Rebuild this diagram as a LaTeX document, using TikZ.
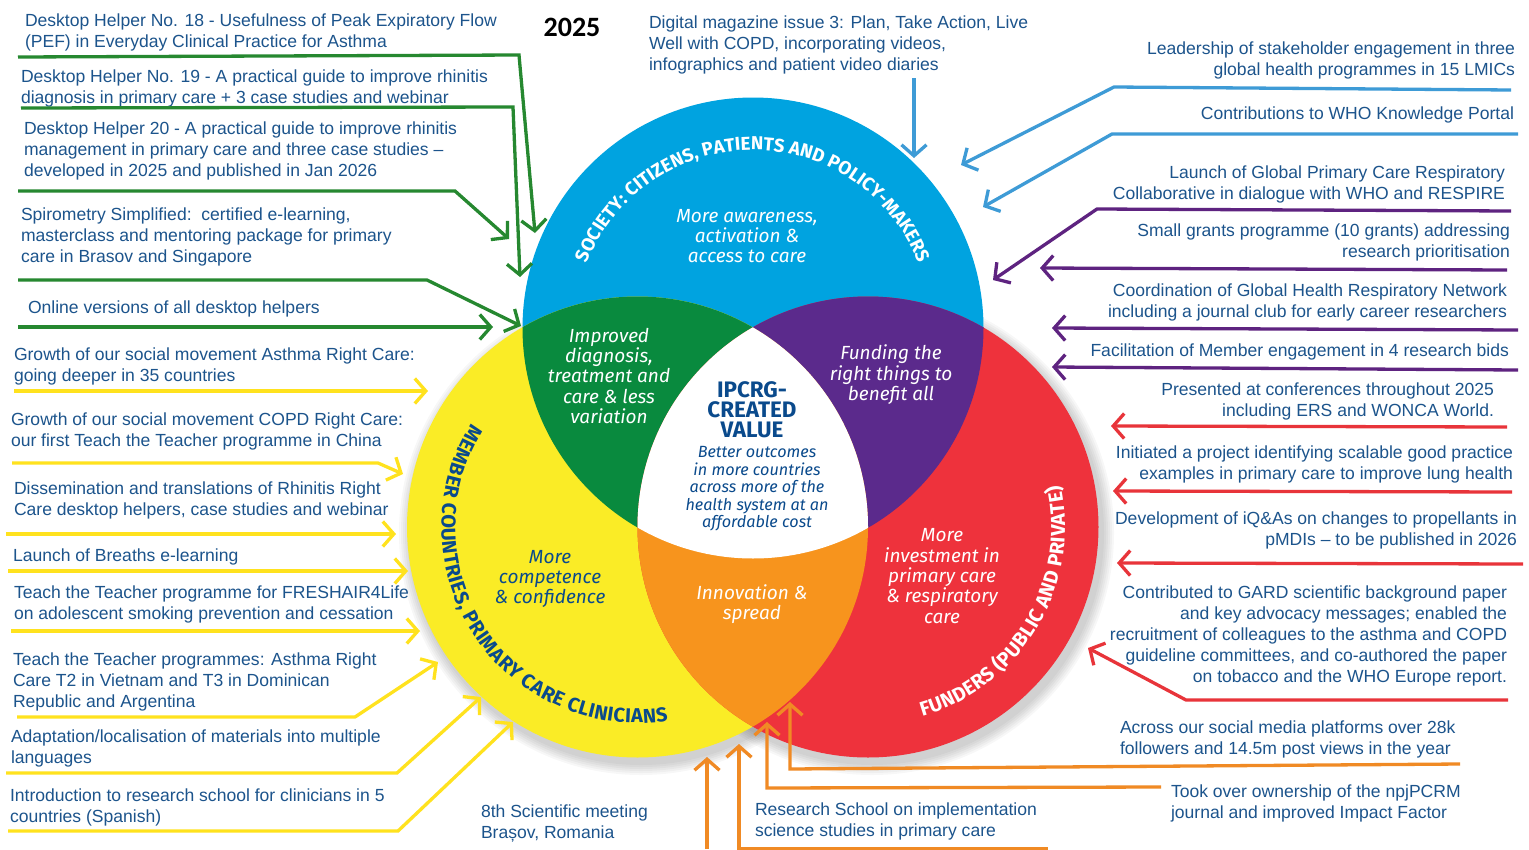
\documentclass[tikz,border=0pt]{standalone}
\usepackage{fontspec}
\setmainfont{Liberation Sans}
\newfontfamily\vennfont{Fira Sans}
\newfontfamily\yearfont{Carlito}
\usetikzlibrary{arrows.meta,decorations.text}
\definecolor{vblue}{RGB}{0,163,224}
\definecolor{vgreen}{RGB}{9,138,62}
\definecolor{vpurple}{RGB}{91,42,140}
\definecolor{vyellow}{RGB}{250,236,38}
\definecolor{vorange}{RGB}{247,148,29}
\definecolor{vred}{RGB}{238,50,60}
\definecolor{bodyblue}{RGB}{28,84,140}
\definecolor{darkblue}{RGB}{10,74,140}
\definecolor{lgreen}{RGB}{38,136,48}
\definecolor{lyellow}{RGB}{255,226,30}
\definecolor{lblue}{RGB}{62,155,214}
\definecolor{lpurple}{RGB}{94,35,128}
\definecolor{lred}{RGB}{232,52,58}
\definecolor{lorange}{RGB}{240,138,36}
\tikzset{
  body/.style={inner sep=0pt,outer sep=0pt,text=bodyblue,font=\fontsize{17.55}{21}\selectfont},
  conn/.style={line width=3.3pt,-{Straight Barb[length=11pt,width=25pt,line width=3.3pt]}},
  vlab/.style={inner sep=0pt,align=center,font=\vennfont\itshape\fontsize{19}{20.4}\selectfont},
  vsmall/.style={inner sep=0pt,align=center,text=darkblue,font=\vennfont\itshape\fontsize{16.2}{17.5}\selectfont},
}
\newcommand\txtL[4]{\node[body,anchor=north west,align=left] (#1) at (#2,#3-8.2) {\strut #4};}
\newcommand\txtR[4]{\node[body,anchor=north east,align=right] (#1) at (#2,#3-8.2) {\strut #4};}
\newcommand\arrowThree[5]{\coordinate (#1s) at (#3); \coordinate (#1b) at (#4); \coordinate (#1e) at (#5); \draw[conn,draw=#2] (#1s) -- (#1b) -- (#1e);}
\newcommand\arrowTwo[4]{\coordinate (#1s) at (#3); \coordinate (#1e) at (#4); \draw[conn,draw=#2] (#1s) -- (#1e);}
\newcommand\curvefont{\vennfont\bfseries\fontsize{18.7}{20}\selectfont}
\newcommand\curvefontb{\vennfont\bfseries\fontsize{20}{22}\selectfont}
\begin{document}
\begin{tikzpicture}[x=1pt,y=-1pt]
\useasboundingbox (0,0) rectangle (1529,849);
\fill[white] (0,0) rectangle (1529,849);
% soft shadow
\foreach \r in {232,234,236,238,240,242}{
  \fill[black,opacity=0.03] (641,533) circle[radius=\r];
  \fill[black,opacity=0.03] (872,533) circle[radius=\r];
}
% circles
\fill[vblue] (753,328) circle[radius=230.5];
\fill[vyellow] (637.5,527) circle[radius=230.5];
\fill[vred] (868,527) circle[radius=230.5];
\begin{scope}\clip (753,328) circle[radius=230.5]; \fill[vgreen] (637.5,527) circle[radius=230.5]; \end{scope}
\begin{scope}\clip (753,328) circle[radius=230.5]; \fill[vpurple] (868,527) circle[radius=230.5]; \end{scope}
\begin{scope}\clip (637.5,527) circle[radius=230.5]; \fill[vorange] (868,527) circle[radius=230.5]; \end{scope}
\begin{scope}\clip (753,328) circle[radius=230.5]; \clip (637.5,527) circle[radius=230.5]; \fill[white] (868,527) circle[radius=230.5]; \end{scope}
% curved labels
\path[decorate,decoration={text along path,text align=center,text={|\curvefont\color{white}|SOCIETY: CITIZENS, PATIENTS AND POLICY-MAKERS}}]
  (577.7,297.1) arc[start angle=170,end angle=10,radius=178pt];
\path[decorate,decoration={text along path,text align=fit to path,text={|\curvefontb\color{darkblue}|MEMBER COUNTRIES, PRIMARY CARE CLINICIANS}}]
  (471.3,423.1) arc[start angle=148,end angle=279,radius=196pt];
\path[decorate,decoration={text along path,text align=fit to path,text={|\curvefontb\color{white}|FUNDERS (PUBLIC AND PRIVATE)}}]
  (922.3,716.4) arc[start angle=-74,end angle=12.3,radius=197pt];
% venn labels
\node[vlab,text=white] (society) at (747,236) {More awareness,\\activation \&\\access to care};
\node[vlab,text=white] (quality) at (609,376) {Improved\\diagnosis,\\treatment and\\care \& less\\variation};
\node[vlab,text=white] (funding) at (891,375) {Funding the\\right things to\\benefit all};
\node[inner sep=0pt,align=center,text=darkblue,font=\vennfont\bfseries\fontsize{22.4}{20.2}\selectfont] (ipcrg) at (752,410) {IPCRG-\\CREATED\\VALUE};
\node[vsmall] (better) at (757,489) {Better outcomes\\in more countries\\across more of the\\health system at an\\affordable cost};
\node[vlab,text=darkblue] (competence) at (550,579) {More\\competence\\\& confidence};
\node[vlab,text=white] (innovation) at (752,604) {Innovation \&\\spread};
\node[vlab,text=white] (investment) at (942,576) {More\\investment in\\primary care\\\& respiratory\\care};
% title
\node[inner sep=0pt,font=\yearfont\bfseries\fontsize{28}{30}\selectfont] (year) at (572,27) {2025};
% left texts
\txtL{a1}{25}{20}{Desktop Helper No. 18 - Usefulness of Peak Expiratory Flow\\(PEF) in Everyday Clinical Practice for Asthma}
\txtL{a2}{21}{76}{Desktop Helper No. 19 - A practical guide to improve rhinitis\\diagnosis in primary care + 3 case studies and webinar}
\txtL{a3}{24}{128}{Desktop Helper 20 - A practical guide to improve rhinitis\\management in primary care and three case studies –\\developed in 2025 and published in Jan 2026}
\txtL{a4}{21}{214}{Spirometry Simplified:\ \ certified e-learning,\\masterclass and mentoring package for primary\\care in Brasov and Singapore}
\txtL{a5}{28}{307}{Online versions of all desktop helpers}
\txtL{b1}{14}{354}{Growth of our social movement Asthma Right Care:\\going deeper in 35 countries}
\txtL{b2}{11}{419}{Growth of our social movement COPD Right Care:\\our first Teach the Teacher programme in China}
\txtL{b3}{14}{488}{Dissemination and translations of Rhinitis Right\\Care desktop helpers, case studies and webinar}
\txtL{b4}{13}{555}{Launch of Breaths e-learning}
\txtL{b5}{14}{592}{Teach the Teacher programme for FRESHAIR4Life\\on adolescent smoking prevention and cessation}
\txtL{b6}{13}{659}{Teach the Teacher programmes: Asthma Right\\Care T2 in Vietnam and T3 in Dominican\\Republic and Argentina}
\txtL{b7}{11}{736}{Adaptation/localisation of materials into multiple\\languages}
\txtL{b8}{10}{795}{Introduction to research school for clinicians in 5\\countries (Spanish)}
% top and bottom texts
\txtL{c1}{649}{22}{Digital magazine issue 3: Plan, Take Action, Live\\Well with COPD, incorporating videos,\\infographics and patient video diaries}
\txtL{d1}{481}{811}{8th Scientific meeting\\Brașov, Romania}
\txtL{d2}{755}{809}{Research School on implementation\\science studies in primary care}
\txtL{d3}{1120}{727}{Across our social media platforms over 28k\\followers and 14.5m post views in the year}
\txtL{d4}{1171}{791}{Took over ownership of the npjPCRM\\journal and improved Impact Factor}
% right texts
\txtR{e1}{1515}{48}{Leadership of stakeholder engagement in three\\global health programmes in 15 LMICs}
\txtR{e2}{1514}{113}{Contributions to WHO Knowledge Portal}
\txtR{f1}{1505}{172}{Launch of Global Primary Care Respiratory\\Collaborative in dialogue with WHO and RESPIRE}
\txtR{f2}{1510}{230}{Small grants programme (10 grants) addressing\\research prioritisation}
\txtR{f3}{1507}{290}{Coordination of Global Health Respiratory Network\\including a journal club for early career researchers}
\txtR{f4}{1509}{350}{Facilitation of Member engagement in 4 research bids}
\txtR{g1}{1494}{389}{Presented at conferences throughout 2025\\including ERS and WONCA World.}
\txtR{g2}{1513}{452}{Initiated a project identifying scalable good practice\\examples in primary care to improve lung health}
\txtR{g3}{1517}{518}{Development of iQ\&As on changes to propellants in\\pMDIs – to be published in 2026}
\txtR{g4}{1507}{592}{Contributed to GARD scientific background paper\\and key advocacy messages; enabled the\\recruitment of colleagues to the asthma and COPD\\guideline committees, and co-authored the paper\\on tobacco and the WHO Europe report.}
% green connectors
\arrowThree{ga}{lgreen}{18,57}{519,55}{535,233}
\arrowThree{gb}{lgreen}{21,108}{513,107}{520,277}
\arrowThree{gc}{lgreen}{18,191}{455,191}{509,239}
\arrowThree{gd}{lgreen}{18,280}{427,280}{521,326}
\arrowTwo{ge}{lgreen}{18,327}{493,327}
% yellow connectors
\arrowTwo{ya}{lyellow}{14,391}{428,391}
\arrowThree{yb}{lyellow}{12,463}{378,463}{403,474}
\arrowTwo{yc}{lyellow}{6,534}{396,534}
\arrowTwo{yd}{lyellow}{8,571}{408,571}
\arrowTwo{ye}{lyellow}{11,631}{420,631}
\arrowThree{yf}{lyellow}{17,717}{355,717}{438,662}
\arrowThree{yg}{lyellow}{6,773}{397,773}{481,697}
\arrowThree{yh}{lyellow}{8,831}{398,831}{513,722}
% blue connectors
\arrowTwo{ba}{lblue}{914,78}{914,158}
\arrowThree{bb}{lblue}{1511,90}{1114,87}{961,165}
\arrowThree{bc}{lblue}{1518,134}{1112,134}{983,207}
% purple connectors
\arrowThree{pa}{lpurple}{1511,211}{1097,209}{993,280}
\arrowTwo{pb}{lpurple}{1507,270}{1040,268}
\arrowTwo{pc}{lpurple}{1518,330}{1052,328}
\arrowTwo{pd}{lpurple}{1518,370}{1052,367}
% red connectors
\arrowTwo{ra}{lred}{1507,427}{1111,426}
\arrowTwo{rb}{lred}{1512,492}{1113,491}
\arrowTwo{rc}{lred}{1523,564}{1117,563}
\arrowThree{rd}{lred}{1508,700}{1186,700}{1088,648}
% orange connectors
\arrowThree{oa}{lorange}{1460,764}{790,769}{790,702}
\arrowThree{ob}{lorange}{1161,787}{767,788}{767,722}
\arrowThree{oc}{lorange}{1048,849}{739,849}{739,744}
\arrowTwo{od}{lorange}{707,849}{707,757}
\end{tikzpicture}
\end{document}
